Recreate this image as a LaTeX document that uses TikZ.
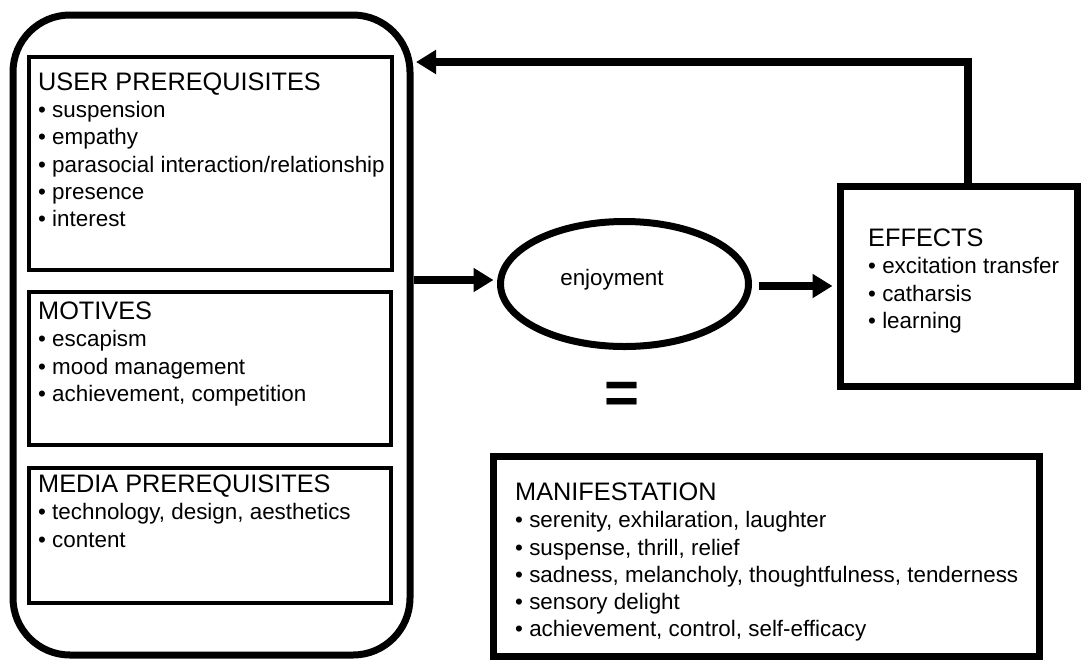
\documentclass[tikz,border=0pt]{standalone}
\usepackage{fontspec}
\setmainfont{Liberation Sans}
\usetikzlibrary{arrows.meta,shapes.geometric,calc}
\newcommand\sechead[1]{{\fontsize{25.3}{27.3}\selectfont #1}}
\begin{document}
\begin{tikzpicture}[x=1pt,y=-1pt,
  bigbox/.style={draw,line width=7pt,rounded corners=57pt,inner sep=0pt},
  secbox/.style={draw,line width=4.5pt,inner sep=0pt},
  thickbox/.style={draw,line width=7pt,inner sep=0pt},
  txt/.style={inner sep=0pt,anchor=north west,align=left,font=\fontsize{22.4}{27.3}\selectfont},
  arr/.style={line width=8pt,-{Triangle[length=20pt,width=23pt]}}]
\fill[white] (0,0) rectangle (1083,662);
\useasboundingbox (0,0) rectangle (1083,662);

\node[bigbox, minimum width=397pt, minimum height=640pt] (outer) at (211.5,335) {};
\node[secbox, minimum width=363pt, minimum height=213pt] (user) at (210.5,163.5) {};
\node[secbox, minimum width=362pt, minimum height=153pt] (motives) at (210,368.5) {};
\node[secbox, minimum width=362pt, minimum height=135pt] (media) at (210,535.5) {};

\node[txt] (usertxt) at (38,72.3) {\sechead{USER PREREQUISITES}\\• suspension\\• empathy\\• parasocial interaction/relationship\\• presence\\• interest};
\node[txt] (motivestxt) at (38,301.6) {\sechead{MOTIVES}\\• escapism\\• mood management\\• achievement, competition};
\node[txt] (mediatxt) at (38,474.6) {\sechead{MEDIA PREREQUISITES}\\• technology, design, aesthetics\\• content};

\node[ellipse, draw, line width=7pt, minimum width=248pt, minimum height=125pt, inner sep=0pt] (enjoy) at (624.5,284) {};
\node[font=\fontsize{22.4}{27}\selectfont, anchor=base, inner sep=0pt] (enjoytxt) at (612,285) {enjoyment};

\node[thickbox, minimum width=237pt, minimum height=200pt] (effects) at (958.5,286) {};
\node[txt] (effectstxt) at (868,228.6) {\sechead{EFFECTS}\\• excitation transfer\\• catharsis\\• learning};

\node[thickbox, minimum width=546pt, minimum height=200pt] (manif) at (766.5,556.5) {};
\node[txt] (maniftxt) at (515,482.6) {\sechead{MANIFESTATION}\\• serenity, exhilaration, laughter\\• suspense, thrill, relief\\• sadness, melancholy, thoughtfulness, tenderness\\• sensory delight\\• achievement, control, self-efficacy};

\node[font=\bfseries\fontsize{60}{60}\selectfont, anchor=base, inner sep=0pt] (eq) at (622,413) {=};

\draw[arr, shorten >=3.5pt] (outer.east |- 0,280) -- (enjoy.west |- 0,280);
\draw[arr, shorten <=7pt, shorten >=4pt] (enjoy.east |- effects.west) -- (effects.west);
\coordinate (fbend) at (416,62);
\draw[arr] ([xshift=9.5pt]effects.north) |- (fbend);
\end{tikzpicture}
\end{document}
